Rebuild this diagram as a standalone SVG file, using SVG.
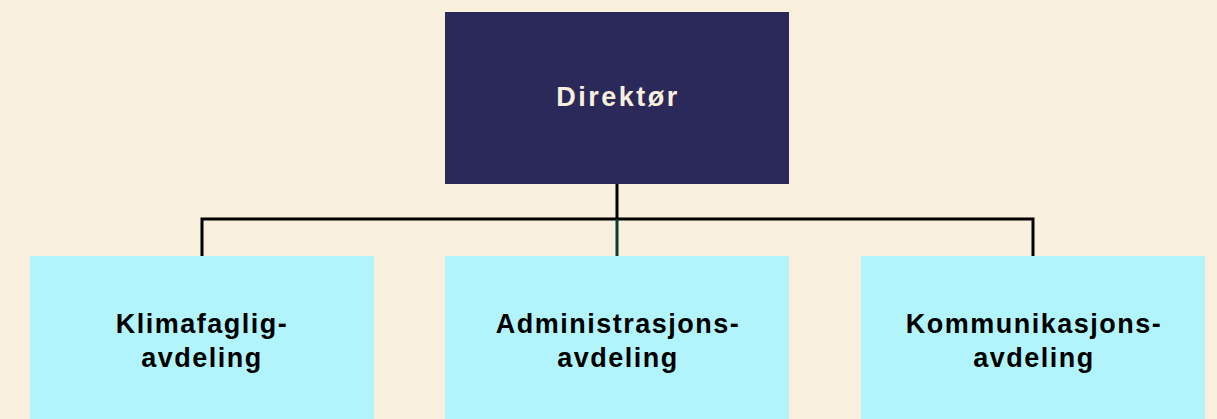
<svg xmlns="http://www.w3.org/2000/svg" width="1217" height="419" viewBox="0 0 1217 419">
<style>
.bg{fill:#f8efdd}
.top{fill:#2b2959}
.dept{fill:#b2f4fc}
.t{font-family:"Liberation Sans",Arial,sans-serif;font-weight:bold;font-size:27px;text-anchor:middle}
.tt{fill:#f8efdd;letter-spacing:2.5px}
.dt{fill:#000;letter-spacing:1.5px}
.line{fill:none;stroke:#000;stroke-width:3}
</style>
<rect class="bg" x="0" y="0" width="1217" height="419"/>
<g id="connectors">
<path class="line" d="M617 184 V219 M202 256 V219 H1033 V256"/>
<path d="M617 219 V256" fill="none" stroke="#0b3a33" stroke-width="3"/>
</g>
<g id="direktor">
<rect class="top" x="445" y="12" width="344" height="172"/>
<text class="t tt" x="618" y="106">Direktør</text>
</g>
<g id="klimafaglig">
<rect class="dept" x="30" y="256" width="344" height="170"/>
<text class="t dt" x="202" y="333">Klimafaglig-</text>
<text class="t dt" x="202" y="367">avdeling</text>
</g>
<g id="administrasjon">
<rect class="dept" x="445" y="256" width="344" height="170"/>
<text class="t dt" x="618" y="333">Administrasjons-</text>
<text class="t dt" x="618" y="367">avdeling</text>
</g>
<g id="kommunikasjon">
<rect class="dept" x="861" y="256" width="344" height="170"/>
<text class="t dt" x="1034" y="333">Kommunikasjons-</text>
<text class="t dt" x="1034" y="367">avdeling</text>
</g>
</svg>
